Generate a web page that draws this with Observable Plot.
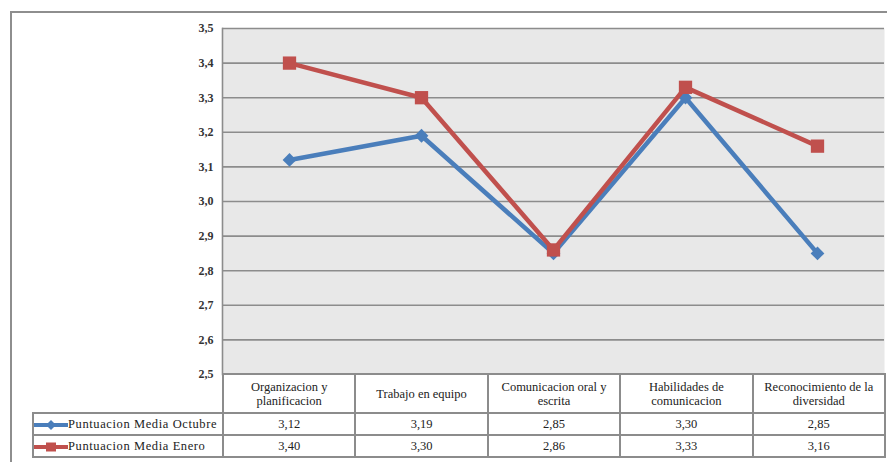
<!DOCTYPE html>
<html>
<head>
<meta charset="utf-8">
<script src="https://cdn.jsdelivr.net/npm/d3@7"></script>
<script src="https://cdn.jsdelivr.net/npm/@observablehq/plot@0.6"></script>
<style>
  html, body { margin: 0; padding: 0; background: #fff; overflow: hidden; }
  #wrap { position: relative; width: 887px; height: 462px; overflow: hidden; font-family: "Liberation Serif", "Times New Roman", Times, "DejaVu Serif", serif; }
  #frame { position: absolute; left: 10px; top: 11px; width: 1000px; height: 600px; border-top: 2px solid #8e8e8e; border-left: 2px solid #8e8e8e; }
  #chart { position: absolute; left: 0; top: 0; }
  #tbl { position: absolute; border-collapse: collapse; table-layout: fixed; color: #222; font-size: 12.5px; font-family: "Liberation Serif", "Times New Roman", Times, "DejaVu Serif", serif; }
  #tbl td { border: 2px solid #8c8c8c; text-align: center; padding: 0; background: #fff; }
  #tbl td.blank { border-top: none; border-left: none; background: transparent; }
  #tbl tr.head td { line-height: 14px; white-space: pre-line; }
  #tbl td.leg { text-align: left; white-space: nowrap; letter-spacing: 0.6px; }
  #tbl td.leg svg { vertical-align: middle; margin-right: 0px; }
</style>
</head>
<body>
<div id="wrap"><div id="frame"></div><div id="chart"></div></div>
<script>
// ---- data ----
const categories = ["Organizacion y planificacion", "Trabajo en equipo", "Comunicacion oral y escrita", "Habilidades de comunicacion", "Reconocimiento de la diversidad"];
const headerLabels = ["Organizacion y\nplanificacion", "Trabajo en equipo", "Comunicacion oral y\nescrita", "Habilidades de\ncomunicacion", "Reconocimiento de la\ndiversidad"];
const seriesNames = ["Puntuacion Media Octubre", "Puntuacion Media Enero"];
const octubre = [3.12, 3.19, 2.85, 3.30, 2.85];
const enero = [3.40, 3.30, 2.86, 3.33, 3.16];
const yTicks = [2.5, 2.6, 2.7, 2.8, 2.9, 3.0, 3.1, 3.2, 3.3, 3.4, 3.5];
const colors = ["#4a7ebb", "#c0504d"];

const fmt1 = d => d.toFixed(1).replace(".", ",");
const fmt2 = d => d.toFixed(2).replace(".", ",");

const octData = categories.map((c, i) => ({cat: c, v: octubre[i]}));
const eneData = categories.map((c, i) => ({cat: c, v: enero[i]}));

// Excel-like diamond (rotated square)
const diamond = {
  draw(ctx, size) {
    const h = Math.sqrt(size / 2);
    ctx.moveTo(0, -h); ctx.lineTo(h, 0); ctx.lineTo(0, h); ctx.lineTo(-h, 0); ctx.closePath();
  }
};

const W = 887, H = 462, mL = 222, mR = 3, mT = 28, mB = 88;
const serif = "'Liberation Serif', 'Times New Roman', Times, 'DejaVu Serif', serif";

const chart = Plot.plot({
  width: W, height: H,
  marginLeft: mL, marginRight: mR, marginTop: mT, marginBottom: mB,
  style: {fontFamily: serif, fontSize: "12px", color: "#222", background: "transparent", overflow: "visible"},
  x: {type: "point", domain: categories, padding: 0.5, axis: null},
  y: {domain: [2.5, 3.5], axis: null},
  marks: [
    Plot.frame({fill: "#e8e8e8", stroke: null}),
    Plot.gridY(yTicks, {stroke: "#8c8c8c", strokeOpacity: 1, strokeWidth: 1.6}),
    Plot.frame({anchor: "left", stroke: "#8c8c8c", strokeWidth: 1.6}),
    Plot.axisY(yTicks, {tickSize: 0, tickPadding: 9, tickFormat: fmt1, label: null, fontWeight: "bold", fill: "#333", fontFamily: serif}),
    Plot.line(octData, {x: "cat", y: "v", stroke: colors[0], strokeWidth: 4.5}),
    Plot.dot(octData, {x: "cat", y: "v", symbol: diamond, r: 5.5, fill: colors[0], stroke: null}),
    Plot.line(eneData, {x: "cat", y: "v", stroke: colors[1], strokeWidth: 4.5}),
    Plot.dot(eneData, {x: "cat", y: "v", symbol: "square", r: 7.5, fill: colors[1], stroke: null})
  ]
});
document.getElementById("chart").appendChild(chart);

// ---- data table below the plot (aligned to the x scale) ----
const colW = (W - mL - mR) / categories.length;
const legW = mL - 32;
const tbl = document.createElement("table");
tbl.id = "tbl";
tbl.style.left = "32px";
tbl.style.top = (H - mB - 1) + "px";
tbl.style.width = (legW + colW * categories.length) + "px";
const cg = document.createElement("colgroup");
[legW, ...categories.map(() => colW)].forEach(w => { const c = document.createElement("col"); c.style.width = w + "px"; cg.appendChild(c); });
tbl.appendChild(cg);

const head = document.createElement("tr");
head.className = "head";
head.style.height = "39px";
const blank = document.createElement("td"); blank.className = "blank"; head.appendChild(blank);
headerLabels.forEach(t => { const td = document.createElement("td"); td.textContent = t; head.appendChild(td); });
tbl.appendChild(head);

function swatch(i) {
  const ns = "http://www.w3.org/2000/svg";
  const s = document.createElementNS(ns, "svg");
  s.setAttribute("width", 34); s.setAttribute("height", 12);
  const l = document.createElementNS(ns, "line");
  l.setAttribute("x1", 0); l.setAttribute("x2", 34); l.setAttribute("y1", 6); l.setAttribute("y2", 6);
  l.setAttribute("stroke", colors[i]); l.setAttribute("stroke-width", 4);
  s.appendChild(l);
  const m = document.createElementNS(ns, "path");
  m.setAttribute("d", i === 0 ? "M17,1L22,6L17,11L12,6Z" : "M12,1.5H22V10.5H12Z");
  m.setAttribute("fill", colors[i]);
  s.appendChild(m);
  return s;
}

[octubre, enero].forEach((vals, i) => {
  const tr = document.createElement("tr");
  tr.style.height = "22px";
  const lg = document.createElement("td"); lg.className = "leg";
  lg.appendChild(swatch(i));
  lg.appendChild(document.createTextNode(seriesNames[i]));
  tr.appendChild(lg);
  vals.forEach(v => { const td = document.createElement("td"); td.textContent = fmt2(v); tr.appendChild(td); });
  tbl.appendChild(tr);
});
document.getElementById("wrap").appendChild(tbl);
</script>
</body>
</html>
